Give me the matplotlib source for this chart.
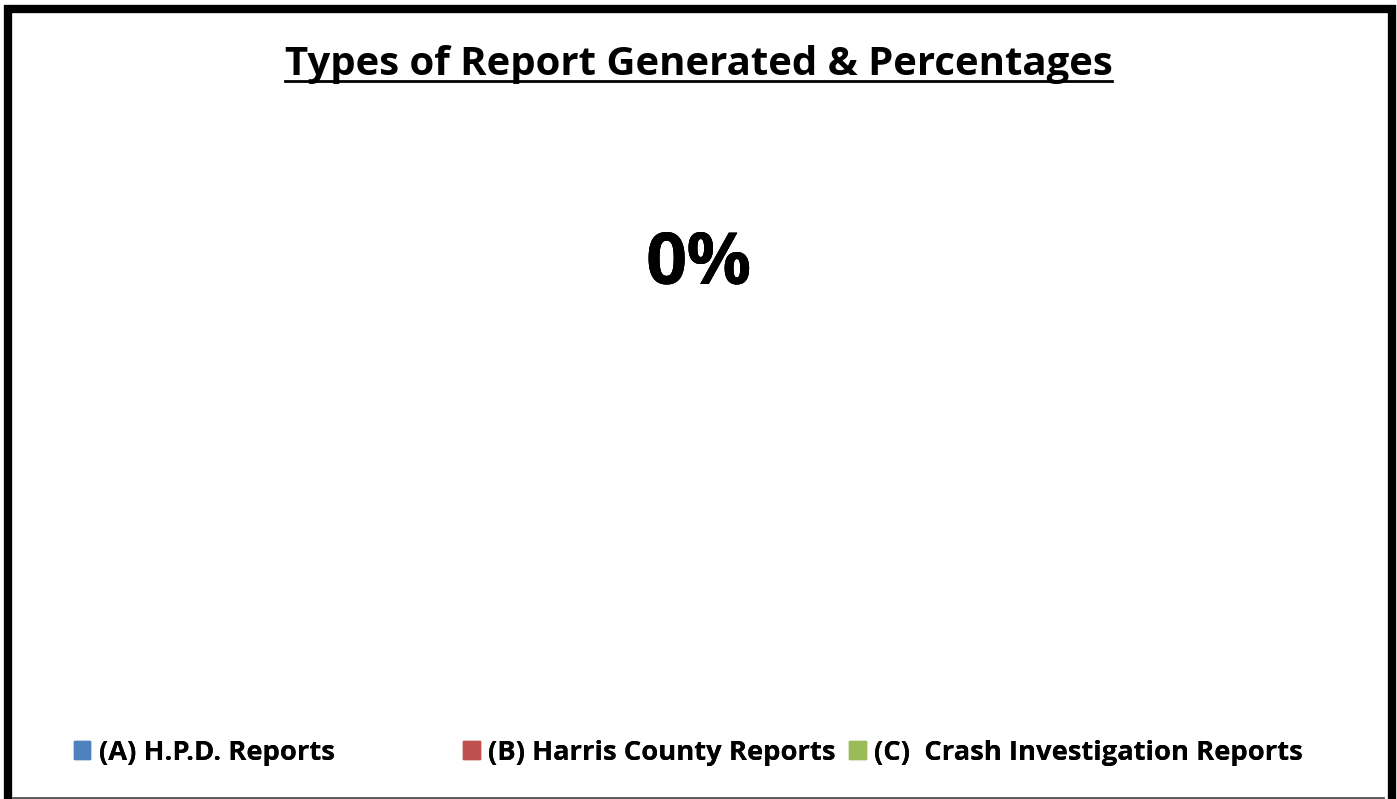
import matplotlib.pyplot as plt
from matplotlib.patches import Patch, Rectangle
from matplotlib.lines import Line2D

# data
labels = ['(A) H.P.D. Reports', '(B) Harris County Reports',
          '(C)  Crash Investigation Reports']
values = [0, 0, 0]
colors = ['#4F81BD', '#C0504D', '#9BBB59']
title = 'Types of Report Generated & Percentages'

font = 'Open Sans'

fig = plt.figure(figsize=(13.97, 7.99), dpi=100)
ax = fig.add_axes([0.2, 0.12, 0.6, 0.62])
ax.set_xlim(-1, 1)
ax.set_ylim(-1, 1)
ax.axis('off')

total = sum(values)
if total > 0:
    ax.pie(values, colors=colors, startangle=90, counterclock=False,
           autopct='%1.0f%%', textprops=dict(fontsize=44, weight='bold'))
else:
    # every slice is zero: Excel stacks all labels at the top of the pie
    for v in values:
        ax.text(0, 0.77, '{:.0f}%'.format(v), ha='center', va='center',
                fontsize=52, fontweight='bold', family=font)

# title with underline
t = fig.text(0.5, 0.919, title, ha='center', va='center',
             fontsize=28.9, fontweight='bold', family=font)
fig.canvas.draw()
bb = t.get_window_extent().transformed(fig.transFigure.inverted())
fig.add_artist(Line2D([bb.x0, bb.x1], [bb.y0 + 0.004, bb.y0 + 0.004],
                      transform=fig.transFigure, color='black', lw=2))

# legend: equal-width columns like Excel
legend_x = [0.035, 0.314, 0.59]
for lab, col, x in zip(labels, colors, legend_x):
    leg = fig.legend(handles=[Patch(color=col, label=lab)],
                     loc='center left', bbox_to_anchor=(x, 0.058),
                     frameon=False, handlelength=0.62, handleheight=0.62,
                     handletextpad=0.3,
                     prop=dict(family=font, weight='bold', size=19.7))
    fig.add_artist(leg)

# chart border
fig.add_artist(Rectangle((0.0058, -0.01), 0.9907, 0.9986, fill=False,
                         transform=fig.transFigure, lw=6, ec='black'))
fig.add_artist(Line2D([0.009, 0.99], [0.0015, 0.0015],
                      transform=fig.transFigure, color='#555555', lw=2))

fig.savefig('out.png', dpi=100, facecolor='white')
